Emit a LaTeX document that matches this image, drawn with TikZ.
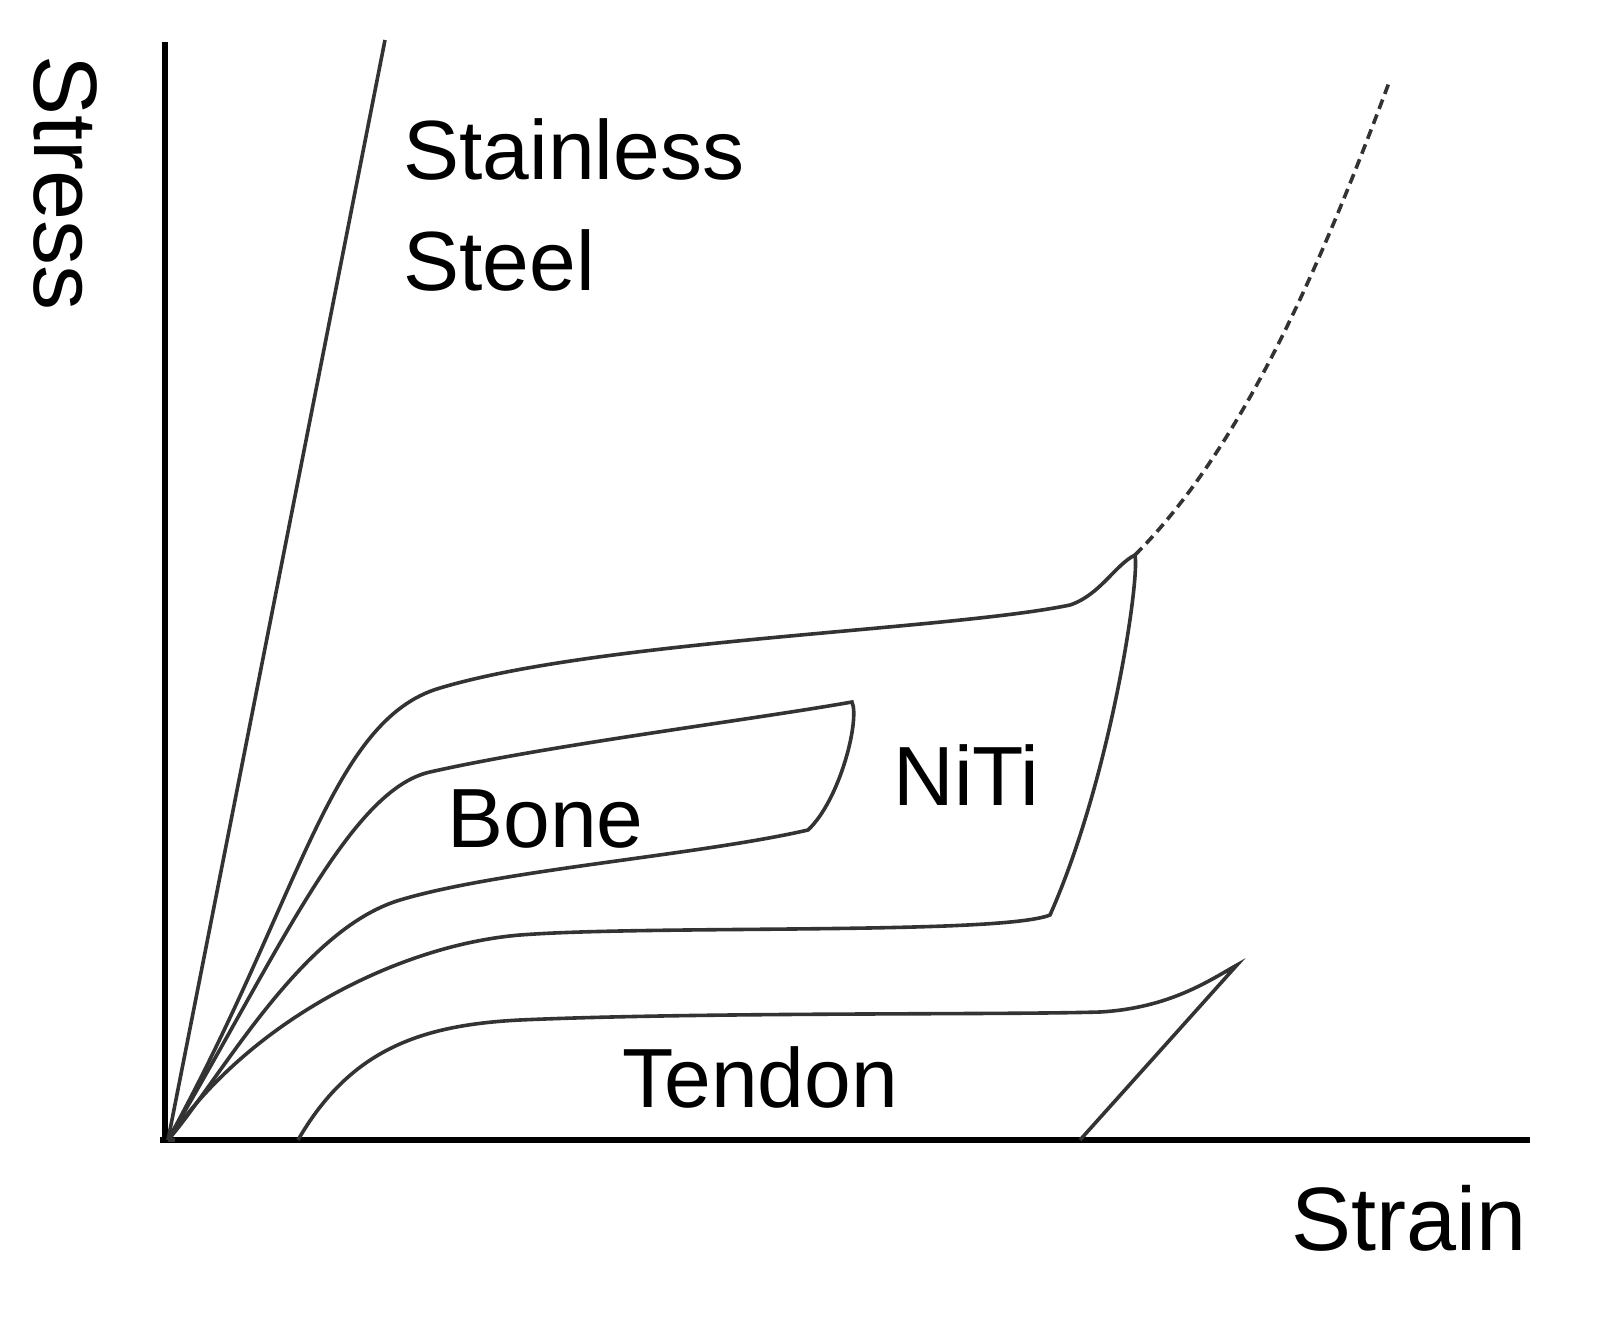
\documentclass[tikz,border=0pt]{standalone}
\usepackage{fontspec}
\setmainfont{Liberation Sans}
\begin{document}
\begin{tikzpicture}[x=0.5pt,y=-0.5pt,
  curve/.style={line width=1.8pt,black!80},
  lab/.style={font=\fontsize{42}{48}\selectfont,anchor=base west,inner sep=0}]
\useasboundingbox (0,0) rectangle (1613,1327);
\coordinate (O) at (168,1140);
\draw[line width=3pt] (165,42) -- (165,1143);
\draw[line width=3pt] (160,1140) -- (1530,1140);
% steel
\coordinate (S) at (385,40);
\draw[curve] (O) -- (S);
% NiTi
\coordinate (N1) at (1135,555);
\coordinate (N2) at (1050,915);
\draw[curve] (O) .. controls (300,900) and (330,720) .. (440,688)
  .. controls (600,640) and (950,630) .. (1070,605)
  .. controls (1100,595) and (1115,565) .. (N1)
  .. controls (1140,580) and (1110,780) .. (N2)
  .. controls (1000,935) and (650,925) .. (520,935)
  .. controls (400,945) and (250,1020) .. (O);
\draw[curve,dash pattern=on 5pt off 3pt] (N1) .. controls (1250,440) and (1330,240) .. (1390,80);
% Bone
\coordinate (B1) at (852,702);
\draw[curve] (O) .. controls (280,950) and (350,790) .. (430,772)
  .. controls (550,745) and (750,720) .. (B1)
  .. controls (860,720) and (840,800) .. (808,830)
  .. controls (700,855) and (500,870) .. (400,900)
  .. controls (300,930) and (220,1080) .. (O);
% Tendon
\coordinate (T0) at (298,1140);
\coordinate (T1) at (1237,965);
\coordinate (T2) at (1080,1140);
\draw[curve] (T0) .. controls (350,1050) and (420,1025) .. (520,1020)
  .. controls (700,1012) and (1000,1015) .. (1100,1012)
  .. controls (1170,1008) and (1210,980) .. (T1) -- (T2);
\draw[curve] (O) -- (175,1140);
\node[lab] (st1) at (403,180) {Stainless};
\node[lab] (st2) at (403,290) {Steel};
\node[lab] (niti) at (893,805) {NiTi};
\node[lab] (bone) at (447,847) {Bone};
\node[lab] (tend) at (622,1107) {Tendon};
\node[font=\fontsize{45}{50}\selectfont,rotate=-90,anchor=base west,inner sep=0] (stress) at (34,55) {Stress};
\node[font=\fontsize{45}{50}\selectfont,anchor=base east,inner sep=0] (strain) at (1527,1250) {Strain};
\end{tikzpicture}
\end{document}
